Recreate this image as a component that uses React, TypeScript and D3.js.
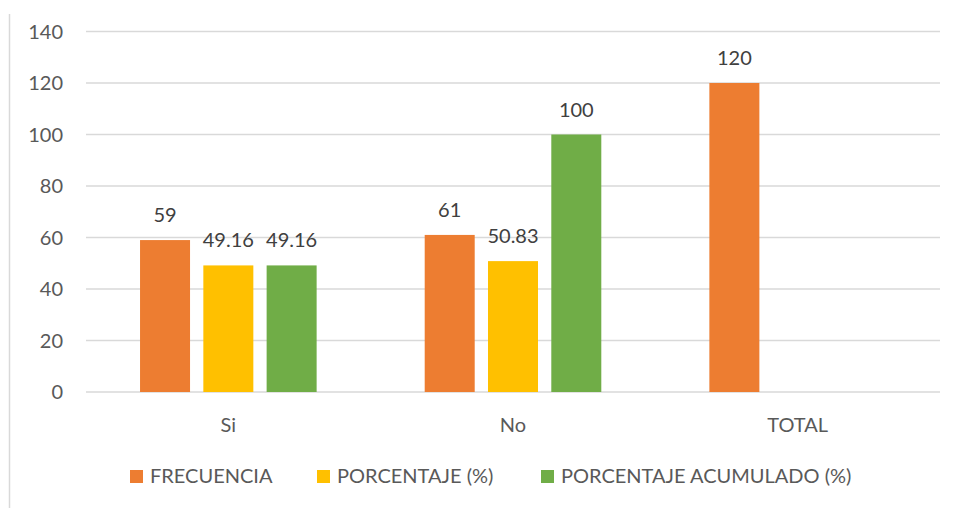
import React from "react";
import * as d3 from "d3";

const categories = ["Si", "No", "TOTAL"];
const seriesNames = ["FRECUENCIA", "PORCENTAJE (%)", "PORCENTAJE ACUMULADO (%)"];
const frecuencia: (number | null)[] = [59, 61, 120];
const porcentaje: (number | null)[] = [49.16, 50.83, null];
const acumulado: (number | null)[] = [49.16, 100, null];
const yTicks = [0, 20, 40, 60, 80, 100, 120, 140];
const colors = ["#ED7D31", "#FFC000", "#70AD47"];

const W = 957;
const H = 508;
const plotLeft = 86;
const plotRight = 940;
const plotTop = 31.5;
const plotBottom = 392;
const FONT = "Lato, 'Open Sans', sans-serif";
const TEXT = "#595959";
const FS = 20;

export default function App() {
  const series = [frecuencia, porcentaje, acumulado];
  const y = d3.scaleLinear().domain([0, 140]).range([plotBottom, plotTop]);
  const x0 = d3.scaleBand<string>().domain(categories).range([plotLeft, plotRight]).padding(0);
  const groupW = 176.6;
  const x1 = d3
    .scaleBand<string>()
    .domain(seriesNames)
    .range([-groupW / 2, groupW / 2])
    .paddingInner(0.21)
    .paddingOuter(0);

  const legendX = [130, 317, 541];

  return (
    <svg
      width={W}
      height={H}
      style={{ position: "absolute", left: 0, top: 0, background: "#fff" }}
      fontFamily={FONT}
    >
      <rect x={0} y={0} width={W} height={H} fill="#fff" />
      <line x1={9.5} x2={9.5} y1={14} y2={H} stroke="#D9D9D9" strokeWidth={1.5} />
      {yTicks.map((t) => (
        <g key={t}>
          <line x1={plotLeft} x2={plotRight} y1={y(t)} y2={y(t)} stroke="#D9D9D9" strokeWidth={1.3} />
          <text x={63} y={y(t)} dy="0.35em" textAnchor="end" fontSize={FS} fill={TEXT}>
            {t}
          </text>
        </g>
      ))}
      {categories.map((c, ci) => {
        const cx = (x0(c) as number) + x0.bandwidth() / 2;
        return (
          <g key={c}>
            {series.map((s, si) => {
              const v = s[ci];
              if (v === null) return null;
              const bx = cx + (x1(seriesNames[si]) as number);
              return (
                <g key={si}>
                  <rect x={bx} y={y(v)} width={x1.bandwidth()} height={plotBottom - y(v)} fill={colors[si]} />
                  <text
                    x={bx + x1.bandwidth() / 2}
                    y={y(v) - 18}
                    textAnchor="middle"
                    fontSize={FS}
                    fill={"#404040"}
                  >
                    {String(v)}
                  </text>
                </g>
              );
            })}
            <text x={cx} y={432} textAnchor="middle" fontSize={FS} fill={TEXT}>
              {c}
            </text>
          </g>
        );
      })}
      {seriesNames.map((n, i) => (
        <g key={n}>
          <rect x={legendX[i]} y={470} width={13} height={13} fill={colors[i]} />
          <text x={legendX[i] + 20} y={483} fontSize={FS} fill={TEXT}>
            {n}
          </text>
        </g>
      ))}
    </svg>
  );
}
